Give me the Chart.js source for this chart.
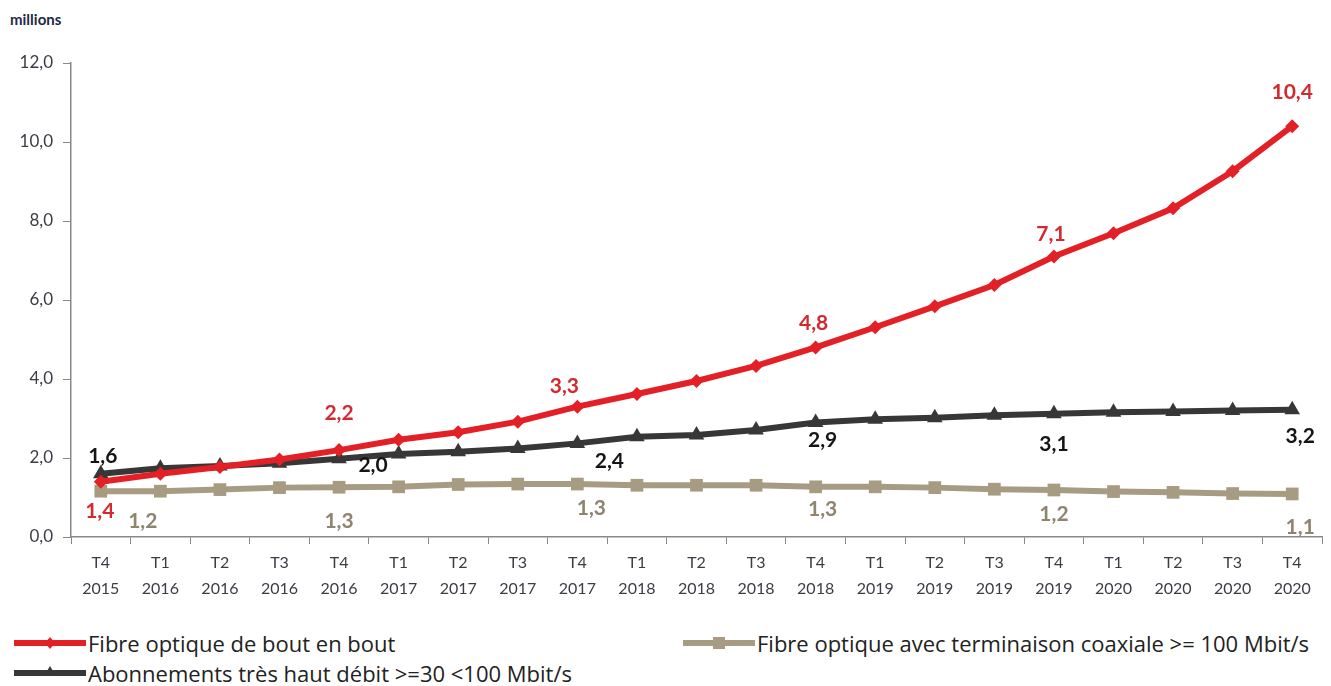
<!DOCTYPE html>
<html>
<head>
<meta charset="utf-8">
<script src="https://cdn.jsdelivr.net/npm/chart.js@4"></script>
<style>
  body { margin: 0; background: #fff; font-family: Lato, "Open Sans", sans-serif; }
  #wrap { position: relative; width: 1331px; height: 686px; }
  #unit { position: absolute; left: 10px; top: 10px; font-weight: bold; font-size: 15px; color: #1f2a44; }
  #chartBox { position: absolute; left: 0; top: 0; width: 1331px; height: 610px; }
  .leg { position: absolute; display: flex; align-items: center; font-family: "Open Sans", sans-serif; font-size: 22px; color: #222; }
  .leg canvas { margin-right: 2px; }
</style>
</head>
<body>
<div id="wrap">
  <div id="unit">millions</div>
  <div id="chartBox"><canvas id="lineChart"></canvas></div>
  <div id="legend"></div>
</div>
<script>
// data
const quarters = ["T4","T1","T2","T3","T4","T1","T2","T3","T4","T1","T2","T3","T4","T1","T2","T3","T4","T1","T2","T3","T4"];
const years = ["2015","2016","2016","2016","2016","2017","2017","2017","2017","2018","2018","2018","2018","2019","2019","2019","2019","2020","2020","2020","2020"];

const fibreBoutEnBout = [1.4, 1.6, 1.77, 1.96, 2.2, 2.46, 2.65, 2.92, 3.3, 3.62, 3.95, 4.33, 4.8, 5.31, 5.84, 6.38, 7.1, 7.69, 8.32, 9.26, 10.4];
const thd30a100 = [1.6, 1.74, 1.8, 1.87, 1.98, 2.1, 2.16, 2.24, 2.37, 2.54, 2.58, 2.71, 2.9, 2.98, 3.02, 3.08, 3.12, 3.16, 3.18, 3.2, 3.22];
const fibreCoax = [1.16, 1.16, 1.2, 1.25, 1.26, 1.27, 1.33, 1.34, 1.34, 1.31, 1.31, 1.31, 1.27, 1.27, 1.25, 1.21, 1.19, 1.15, 1.13, 1.1, 1.09];

const yTicks = [0, 2, 4, 6, 8, 10, 12];
const labelledPoints = [0, 4, 8, 12, 16, 20];

const seriesNames = [
  "Fibre optique de bout en bout",
  "Abonnements très haut débit >=30 <100 Mbit/s",
  "Fibre optique avec terminaison coaxiale >= 100 Mbit/s"
];

// label placement around each labelled point (dx, dy in px)
const labelOffsets = [
  [[-1, 30], [0, -37], [-13, -20], [-2, -24], [-3, -22], [0, -34]],
  [[2, -18], [34, 6], [32, 18], [7, 18], [0, 30], [8, 26]],
  [[42, 30], [0, 34], [14, 24], [7, 22], [0, 24], [8, 33]]
];
const labelColors = ["#d42a2f", "#151515", "#8f8470"];

const fmt = (v) => v.toFixed(1).replace(".", ",");

const valueLabels = {
  id: "valueLabels",
  afterDatasetsDraw(chart) {
    const ctx = chart.ctx;
    const x = chart.scales.x;
    const y = chart.scales.y;
    ctx.save();
    ctx.font = "bold 21px Lato, sans-serif";
    ctx.textAlign = "center";
    ctx.textBaseline = "middle";
    chart.data.datasets.forEach((ds, d) => {
      labelledPoints.forEach((idx, k) => {
        const px = x.getPixelForValue(idx) + labelOffsets[d][k][0];
        const py = y.getPixelForValue(ds.data[idx]) + labelOffsets[d][k][1];
        ctx.fillStyle = labelColors[d];
        ctx.fillText(fmt(ds.data[idx]), px, py);
      });
    });
    ctx.restore();
  }
};

const styles = [
  { color: "#e32026", style: "rectRot", radius: 7, width: 6 },
  { color: "#373737", style: "triangle", radius: 9, width: 6 },
  { color: "#a79c82", style: "rect", radius: 9, width: 6 }
];

const seriesData = [fibreBoutEnBout, thd30a100, fibreCoax];

const datasets = seriesData.map((vals, i) => ({
  label: seriesNames[i],
  data: vals,
  borderColor: styles[i].color,
  backgroundColor: styles[i].color,
  borderWidth: styles[i].width,
  pointStyle: styles[i].style,
  pointRadius: styles[i].radius,
  pointHoverRadius: styles[i].radius,
  pointBorderWidth: 0,
  tension: 0,
  order: i
}));

new Chart(document.getElementById("lineChart"), {
  type: "line",
  data: {
    labels: quarters.map((q, i) => [q, years[i]]),
    datasets: datasets
  },
  plugins: [valueLabels],
  options: {
    responsive: true,
    maintainAspectRatio: false,
    animation: false,
    layout: { padding: { top: 63, right: 9, left: 0, bottom: 0 } },
    scales: {
      x: {
        offset: true,
        grid: { offset: true, drawOnChartArea: false, drawTicks: true, tickLength: 7, color: "#888" },
        border: { display: true, color: "#888", width: 1.5 },
        ticks: { color: "#3c3c46", font: { size: 16, family: "Lato", lineHeight: 1.6 }, maxRotation: 0, autoSkip: false, padding: 6 },
        afterFit: (s) => { s.height = 73; }
      },
      y: {
        min: 0,
        max: 12,
        afterBuildTicks: (s) => { s.ticks = yTicks.map((v) => ({ value: v })); },
        grid: { drawOnChartArea: false, drawTicks: true, tickLength: 8, color: "#888" },
        border: { display: true, color: "#888", width: 1.5 },
        ticks: { color: "#3c3c46", font: { size: 17, family: "Lato" }, padding: 10, callback: (v) => fmt(v) },
        afterFit: (s) => { s.width = 71; }
      }
    },
    plugins: {
      legend: { display: false },
      tooltip: { enabled: false }
    }
  }
});

// legend built from the series names
const legendOrder = [0, 2, 1];
const legendPos = [[14, 643], [683, 643], [14, 673]];
const legendEl = document.getElementById("legend");
legendOrder.forEach((i, n) => {
  const pos = legendPos[n];
  const item = document.createElement("div");
  item.className = "leg";
  item.style.left = pos[0] + "px";
  item.style.top = (pos[1] - 15) + "px";
  item.style.height = "30px";
  const c = document.createElement("canvas");
  c.width = 72; c.height = 20;
  const g = c.getContext("2d");
  g.strokeStyle = styles[i].color;
  g.lineWidth = 6;
  g.beginPath(); g.moveTo(0, 10); g.lineTo(72, 10); g.stroke();
  g.fillStyle = styles[i].color;
  g.beginPath();
  if (i === 0) { g.moveTo(36, 4); g.lineTo(41, 10); g.lineTo(36, 16); g.lineTo(31, 10); }
  else if (i === 1) { g.moveTo(36, 3); g.lineTo(42, 13); g.lineTo(30, 13); }
  else { g.rect(30, 4, 12, 12); }
  g.fill();
  item.appendChild(c);
  const t = document.createElement("span");
  t.textContent = seriesNames[i];
  item.appendChild(t);
  legendEl.appendChild(item);
});
</script>
</body>
</html>
